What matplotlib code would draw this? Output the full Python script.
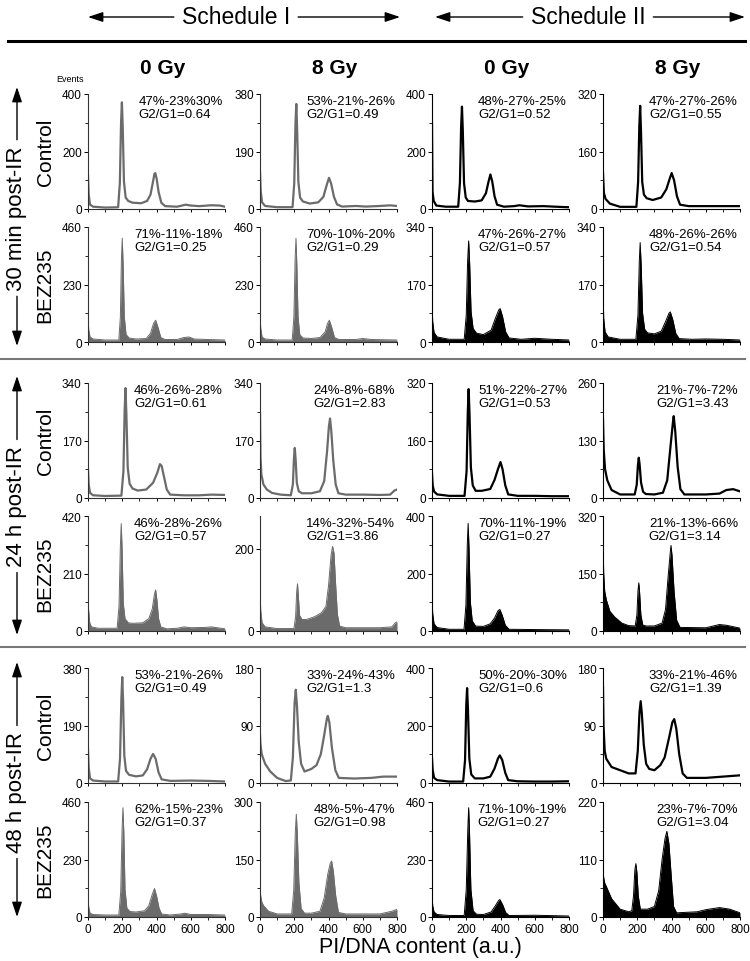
import matplotlib.pyplot as plt
from matplotlib.patches import FancyArrowPatch
from matplotlib.lines import Line2D

plt.rcParams['font.family'] = ['Liberation Sans', 'DejaVu Sans']

# =========================
# Data: (PI/DNA content, events) breakpoints per panel
# rows: 30 min / 24 h / 48 h post-IR, control and BEZ235
# cols: schedule I 0 Gy, 8 Gy, schedule II 0 Gy, 8 Gy
# =========================
m30_ctl_s1_0 = [(0, 117), (4, 50), (12, 15), (30, 8), (100, 5), (176, 6), (186, 90), (193, 300), (198, 371), (203, 280), (210, 95), (220, 40), (235, 28), (260, 22), (310, 20), (345, 28), (365, 50), (378, 90), (388, 122), (393, 125), (401, 105), (412, 60), (428, 22), (450, 10), (520, 8), (570, 15), (600, 12), (650, 10), (720, 13), (770, 12), (800, 8)]
m30_ctl_s1_8 = [(0, 125), (4, 60), (12, 22), (30, 10), (100, 6), (190, 6), (200, 85), (207, 280), (212, 347), (217, 260), (224, 90), (234, 38), (250, 25), (290, 18), (340, 22), (370, 40), (390, 80), (403, 103), (415, 85), (432, 40), (450, 15), (480, 8), (560, 10), (620, 8), (700, 10), (760, 12), (800, 10)]
m30_ctl_s2_0 = [(0, 300), (3, 60), (10, 28), (25, 12), (80, 8), (153, 8), (163, 90), (170, 285), (175, 356), (180, 270), (187, 90), (197, 40), (210, 28), (250, 26), (290, 30), (315, 55), (330, 95), (341, 120), (352, 95), (365, 45), (380, 15), (420, 8), (480, 10), (510, 13), (560, 9), (650, 10), (720, 8), (800, 6)]
m30_ctl_s2_8 = [(0, 100), (5, 45), (15, 28), (40, 15), (100, 6), (195, 6), (205, 75), (212, 230), (217, 287), (222, 215), (229, 75), (239, 40), (255, 30), (290, 25), (340, 32), (370, 55), (390, 85), (401, 100), (415, 80), (432, 35), (450, 12), (500, 8), (600, 8), (700, 8), (800, 8)]

m30_bez_s1_0 = [(0, 114), (4, 50), (12, 20), (30, 12), (100, 8), (180, 8), (189, 100), (195, 330), (200, 415), (205, 310), (212, 100), (222, 30), (240, 16), (280, 12), (340, 14), (365, 35), (383, 75), (395, 87), (408, 60), (425, 18), (450, 10), (520, 10), (560, 18), (590, 20), (620, 12), (700, 10), (800, 8)]
m30_bez_s1_8 = [(0, 120), (4, 55), (12, 20), (30, 12), (100, 8), (188, 8), (198, 100), (205, 330), (210, 415), (215, 310), (222, 100), (232, 30), (250, 16), (300, 14), (350, 18), (380, 40), (395, 75), (405, 87), (418, 60), (435, 18), (460, 10), (560, 10), (600, 14), (650, 10), (800, 8)]
m30_bez_s2_0 = [(0, 114), (4, 60), (12, 28), (30, 15), (100, 8), (188, 8), (200, 80), (208, 240), (214, 299), (220, 230), (228, 90), (240, 40), (260, 26), (300, 22), (345, 35), (370, 70), (390, 95), (398, 99), (412, 75), (430, 30), (450, 12), (520, 8), (600, 11), (700, 8), (800, 6)]
m30_bez_s2_8 = [(0, 168), (4, 70), (12, 30), (30, 15), (100, 8), (192, 8), (204, 80), (212, 240), (217, 294), (223, 225), (231, 85), (243, 38), (260, 27), (300, 24), (340, 32), (365, 60), (385, 85), (393, 89), (408, 65), (425, 25), (445, 10), (520, 8), (600, 9), (700, 8), (800, 6)]

h24_ctl_s1_0 = [(0, 86), (4, 40), (12, 15), (30, 8), (100, 6), (195, 7), (207, 80), (214, 260), (219, 325), (224, 250), (232, 90), (243, 42), (260, 28), (290, 22), (340, 25), (380, 45), (405, 75), (420, 100), (430, 95), (445, 60), (460, 25), (480, 10), (560, 8), (650, 8), (720, 10), (800, 9)]
h24_ctl_s1_8 = [(0, 250), (3, 120), (8, 70), (20, 40), (40, 25), (70, 15), (120, 10), (180, 8), (192, 40), (198, 115), (203, 148), (208, 115), (215, 45), (226, 20), (245, 14), (300, 14), (350, 20), (375, 50), (392, 140), (402, 210), (409, 235), (416, 200), (428, 110), (442, 40), (458, 14), (500, 10), (600, 10), (700, 9), (760, 10), (785, 22), (800, 25)]
h24_ctl_s2_0 = [(0, 68), (4, 35), (12, 18), (30, 10), (100, 6), (190, 6), (202, 75), (209, 240), (214, 303), (219, 235), (227, 85), (238, 35), (255, 20), (290, 20), (340, 25), (365, 50), (385, 80), (400, 100), (412, 80), (428, 35), (445, 10), (500, 6), (600, 6), (700, 5), (800, 5)]
h24_ctl_s2_8 = [(0, 178), (4, 110), (12, 65), (25, 40), (50, 18), (100, 8), (185, 8), (197, 30), (204, 75), (209, 91), (214, 75), (222, 35), (234, 14), (250, 9), (300, 8), (350, 12), (375, 40), (395, 120), (408, 170), (413, 185), (422, 150), (436, 70), (452, 20), (475, 8), (600, 8), (680, 10), (720, 18), (760, 20), (800, 15)]

h24_bez_s1_0 = [(0, 202), (3, 80), (10, 30), (20, 15), (60, 10), (170, 10), (181, 90), (189, 310), (194, 392), (199, 300), (206, 100), (216, 45), (235, 30), (260, 28), (320, 30), (355, 45), (375, 80), (388, 135), (395, 150), (402, 115), (412, 45), (425, 15), (460, 8), (520, 10), (560, 15), (600, 12), (680, 13), (720, 15), (800, 8)]
h24_bez_s1_8 = [(0, 107), (4, 50), (12, 20), (30, 10), (100, 6), (198, 6), (208, 35), (214, 95), (219, 115), (224, 85), (231, 38), (245, 28), (270, 28), (320, 35), (360, 45), (385, 60), (400, 110), (415, 185), (424, 206), (432, 190), (442, 110), (452, 40), (465, 12), (500, 8), (600, 8), (700, 8), (770, 10), (790, 20), (800, 22)]
h24_bez_s2_0 = [(0, 122), (4, 60), (12, 25), (30, 12), (100, 6), (187, 6), (198, 90), (206, 300), (211, 374), (216, 290), (224, 100), (235, 35), (255, 17), (300, 16), (340, 25), (365, 45), (385, 70), (396, 75), (410, 55), (428, 20), (450, 6), (600, 5), (800, 4)]
h24_bez_s2_8 = [(0, 254), (4, 160), (10, 110), (20, 86), (40, 55), (68, 39), (110, 22), (150, 15), (188, 14), (198, 45), (204, 110), (209, 134), (214, 105), (221, 45), (232, 17), (250, 14), (300, 14), (345, 22), (365, 60), (380, 150), (393, 220), (397, 238), (403, 210), (415, 110), (430, 30), (450, 10), (600, 9), (680, 18), (720, 16), (800, 8)]

h48_ctl_s1_0 = [(0, 113), (4, 50), (12, 15), (30, 8), (100, 5), (176, 5), (187, 80), (195, 280), (200, 350), (205, 270), (212, 90), (222, 40), (240, 27), (280, 22), (320, 25), (345, 45), (365, 80), (380, 96), (395, 80), (412, 35), (430, 12), (480, 7), (600, 8), (700, 7), (800, 5)]
h48_ctl_s1_8 = [(0, 75), (3, 60), (10, 45), (30, 30), (60, 18), (100, 8), (150, 3), (180, 4), (192, 40), (202, 125), (209, 146), (216, 120), (226, 65), (240, 30), (260, 18), (300, 22), (330, 28), (355, 45), (375, 75), (390, 100), (396, 105), (405, 95), (420, 55), (440, 20), (460, 8), (550, 7), (650, 8), (720, 10), (800, 10)]
h48_ctl_s2_0 = [(0, 85), (4, 45), (12, 18), (30, 10), (100, 5), (182, 5), (193, 80), (200, 270), (205, 330), (210, 255), (218, 85), (229, 30), (250, 16), (300, 16), (340, 22), (365, 50), (385, 85), (396, 96), (410, 80), (428, 35), (445, 10), (500, 6), (600, 5), (700, 5), (800, 6)]
h48_ctl_s2_8 = [(0, 150), (3, 90), (10, 50), (19, 38), (50, 25), (100, 20), (150, 15), (190, 15), (203, 50), (213, 110), (220, 128), (227, 108), (238, 60), (252, 30), (270, 22), (300, 20), (335, 28), (360, 40), (385, 70), (405, 95), (416, 100), (428, 85), (445, 45), (465, 15), (490, 8), (600, 8), (700, 10), (800, 12)]

h48_bez_s1_0 = [(0, 81), (4, 40), (12, 15), (30, 10), (100, 8), (180, 8), (191, 100), (199, 350), (204, 437), (209, 340), (216, 110), (227, 35), (245, 22), (280, 20), (330, 25), (355, 45), (375, 90), (388, 114), (400, 85), (415, 35), (430, 12), (480, 8), (540, 12), (565, 15), (600, 10), (700, 10), (800, 8)]
h48_bez_s1_8 = [(0, 79), (4, 55), (10, 40), (20, 30), (50, 15), (100, 8), (185, 8), (197, 70), (206, 220), (212, 268), (218, 215), (227, 90), (240, 22), (260, 10), (300, 10), (350, 15), (375, 50), (395, 110), (410, 140), (418, 146), (428, 120), (442, 55), (458, 12), (500, 8), (600, 8), (700, 8), (770, 15), (800, 20)]
h48_bez_s2_0 = [(0, 94), (4, 45), (12, 20), (30, 10), (100, 6), (188, 6), (200, 110), (209, 350), (214, 437), (219, 340), (227, 110), (240, 25), (260, 11), (300, 10), (345, 20), (370, 45), (388, 65), (396, 70), (412, 50), (430, 18), (450, 6), (600, 7), (800, 4)]
h48_bez_s2_8 = [(0, 93), (4, 75), (10, 65), (20, 58), (50, 35), (100, 15), (150, 10), (168, 12), (178, 40), (186, 90), (192, 102), (198, 85), (206, 40), (218, 15), (260, 15), (300, 20), (325, 50), (345, 110), (362, 150), (373, 164), (385, 140), (398, 80), (412, 20), (430, 8), (550, 10), (600, 14), (680, 18), (740, 15), (800, 8)]

panels = [
    [m30_ctl_s1_0, m30_ctl_s1_8, m30_ctl_s2_0, m30_ctl_s2_8],
    [m30_bez_s1_0, m30_bez_s1_8, m30_bez_s2_0, m30_bez_s2_8],
    [h24_ctl_s1_0, h24_ctl_s1_8, h24_ctl_s2_0, h24_ctl_s2_8],
    [h24_bez_s1_0, h24_bez_s1_8, h24_bez_s2_0, h24_bez_s2_8],
    [h48_ctl_s1_0, h48_ctl_s1_8, h48_ctl_s2_0, h48_ctl_s2_8],
    [h48_bez_s1_0, h48_bez_s1_8, h48_bez_s2_0, h48_bez_s2_8],
]

# y axis tops and middle tick labels
y_tops = [
    [400, 380, 400, 320],
    [460, 460, 340, 340],
    [340, 340, 320, 260],
    [420, 280, 400, 320],
    [380, 180, 400, 180],
    [460, 300, 460, 220],
]
y_mids = [
    [200, 190, 200, 160],
    [230, 230, 170, 170],
    [170, 170, 160, 130],
    [210, 200, 200, 150],
    [190, 90, 200, 90],
    [230, 150, 230, 110],
]

# G1-S-G2 percentages and G2/G1 ratios
phases = [
    ["47%-23%30%", "53%-21%-26%", "48%-27%-25%", "47%-27%-26%"],
    ["71%-11%-18%", "70%-10%-20%", "47%-26%-27%", "48%-26%-26%"],
    ["46%-26%-28%", "24%-8%-68%", "51%-22%-27%", "21%-7%-72%"],
    ["46%-28%-26%", "14%-32%-54%", "70%-11%-19%", "21%-13%-66%"],
    ["53%-21%-26%", "33%-24%-43%", "50%-20%-30%", "33%-21%-46%"],
    ["62%-15%-23%", "48%-5%-47%", "71%-10%-19%", "23%-7%-70%"],
]
ratios = [
    ["0.64", "0.49", "0.52", "0.55"],
    ["0.25", "0.29", "0.57", "0.54"],
    ["0.61", "2.83", "0.53", "3.43"],
    ["0.57", "3.86", "0.27", "3.14"],
    ["0.49", "1.3", "0.6", "1.39"],
    ["0.37", "0.98", "0.27", "3.04"],
]

col_heads = ["0 Gy", "8 Gy", "0 Gy", "8 Gy"]
row_labels = ["Control", "BEZ235"]
time_labels = ["30 min post-IR", "24 h post-IR", "48 h post-IR"]
schedules = ["Schedule I", "Schedule II"]

# =========================
# Layout (pixels)
# =========================
W, H = 750, 962
col_x = [88, 260, 432, 603]
col_w = 137
row_top = [95, 228, 384, 517, 669, 803]
row_h = 115
colors = ["#6b6b6b", "#6b6b6b", "black", "black"]


def fx(px):
    return px / W


def fy(py):
    return 1 - py / H


fig = plt.figure(figsize=(W / 100, H / 100), dpi=100)

for r in range(6):
    for c in range(4):
        ax = fig.add_axes([fx(col_x[c]), fy(row_top[r] + row_h), col_w / W, row_h / H])
        xs = [p[0] for p in panels[r][c]]
        ys = [p[1] for p in panels[r][c]]
        col = colors[c]
        if r % 2 == 1:
            ax.fill_between(xs, ys, 0, color=col, lw=0)
            ax.plot(xs, ys, color=col, lw=0.7)
        else:
            ax.plot(xs, ys, color=col, lw=1.6)

        top = y_tops[r][c]
        mid = y_mids[r][c]
        ax.set_xlim(0, 800)
        ax.set_ylim(0, top)

        for s in ["top", "right"]:
            ax.spines[s].set_visible(False)
        for s in ["left", "bottom"]:
            ax.spines[s].set_color("#333333" if c < 2 else "black")
            ax.spines[s].set_linewidth(0.8)

        if abs(2 * mid - top) < 0.1 * top:
            ax.set_yticks([0, top / 2, top])
            ax.set_yticklabels(["0", str(mid), str(top)])
            ax.set_yticks([top / 4, 3 * top / 4], minor=True)
        else:
            ax.set_yticks([0, mid])
            ax.set_yticklabels(["0", str(mid)])

        ax.set_xticks([0, 200, 400, 600, 800])
        ax.set_xticks([100, 300, 500, 700], minor=True)
        if r < 5:
            ax.set_xticklabels([])

        ax.tick_params(which="major", length=3, width=0.7, labelsize=8.5, pad=1.5)
        ax.tick_params(which="minor", length=2, width=0.6)
        ax.tick_params(axis="x", which="both", length=2.5)

        ax.text(0.985, 0.995, phases[r][c] + "\nG2/G1=" + ratios[r][c],
                transform=ax.transAxes, ha="right", va="top",
                multialignment="left", fontsize=9.5, linespacing=1.15)

# =========================
# Headers and labels
# =========================
fig.text(fx(70), fy(80), "Events", fontsize=6.5, ha="center", va="center")

for c in range(4):
    fig.text(fx(col_x[c] + col_w / 2 + 6), fy(68), col_heads[c],
             fontsize=15, fontweight="bold", ha="center", va="center")

for g in range(3):
    for k in range(2):
        r = 2 * g + k
        fig.text(fx(45), fy(row_top[r] + row_h / 2), row_labels[k], rotation=90,
                 fontsize=15, ha="center", va="center")

fig.add_artist(Line2D([fx(8), fx(745)], [fy(42), fy(42)], color="black", lw=2.2))
for yy in [360, 648]:
    fig.add_artist(Line2D([fx(0), fx(745)], [fy(yy), fy(yy)], color="#777777", lw=1.5))

fig.text(fx(420), fy(948), "PI/DNA content (a.u.)", fontsize=15.5, ha="center", va="center")

# texts with arrows on both sides
sched_txt = []
for cx, lab in zip([236, 588], schedules):
    sched_txt.append(fig.text(fx(cx), fy(18), lab, fontsize=16.5, ha="center", va="center"))

time_txt = []
group_mid = [219, 507, 793]
for ym, lab in zip(group_mid, time_labels):
    time_txt.append(fig.text(fx(17), fy(ym), lab, rotation=90, fontsize=16,
                             ha="center", va="center"))

fig.canvas.draw()
inv = fig.transFigure.inverted()


def arrow(p0, p1):
    fig.add_artist(FancyArrowPatch(p0, p1, transform=fig.transFigure,
                                   arrowstyle="-|>,head_length=0.9,head_width=0.3",
                                   mutation_scale=10, color="black", lw=1.0,
                                   shrinkA=0, shrinkB=0))


for t, (xl, xr) in zip(sched_txt, [(88, 400), (435, 745)]):
    bb = t.get_window_extent().transformed(inv)
    arrow((bb.x0 - 8 / W, fy(18)), (fx(xl), fy(18)))
    arrow((bb.x1 + 8 / W, fy(18)), (fx(xr), fy(18)))

for t, (yt, yb) in zip(time_txt, [(88, 347), (377, 636), (663, 918)]):
    bb = t.get_window_extent().transformed(inv)
    arrow((fx(17), bb.y1 + 6 / H), (fx(17), fy(yt)))
    arrow((fx(17), bb.y0 - 6 / H), (fx(17), fy(yb)))

fig.savefig("out.png", dpi=100)
